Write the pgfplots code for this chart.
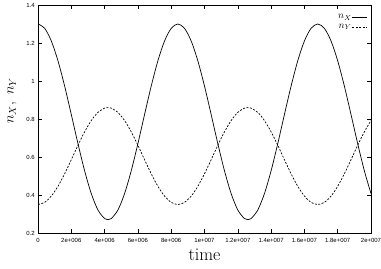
\documentclass[border=0pt]{standalone}
\usepackage{pgfplots}
\usepackage{pgfplotstable}
\usepackage{fontspec}
\pgfplotsset{compat=1.18}
\newfontfamily\tickfont{Liberation Sans}
\pgfplotstableread{
t nX nY
0 1.3000 0.3500
4e5 1.2771 0.3613
8e5 1.2106 0.3943
1.2e6 1.1061 0.4460
1.6e6 0.9732 0.5118
2.0e6 0.8235 0.5859
2.4e6 0.6704 0.6617
2.8e6 0.5275 0.7325
3.2e6 0.4075 0.7919
3.6e6 0.3210 0.8348
4.0e6 0.2758 0.8572
4.2e6 0.2700 0.8600
4.4e6 0.2758 0.8572
4.8e6 0.3210 0.8348
5.2e6 0.4075 0.7919
5.6e6 0.5275 0.7325
6.0e6 0.6704 0.6617
6.4e6 0.8235 0.5859
6.8e6 0.9732 0.5118
7.2e6 1.1061 0.4460
7.6e6 1.2106 0.3943
8.0e6 1.2771 0.3613
8.4e6 1.3000 0.3500
8.8e6 1.2771 0.3613
9.2e6 1.2106 0.3943
9.6e6 1.1061 0.4460
1.0e7 0.9732 0.5118
1.04e7 0.8235 0.5859
1.08e7 0.6704 0.6617
1.12e7 0.5275 0.7325
1.16e7 0.4075 0.7919
1.20e7 0.3210 0.8348
1.24e7 0.2758 0.8572
1.26e7 0.2700 0.8600
1.28e7 0.2758 0.8572
1.32e7 0.3210 0.8348
1.36e7 0.4075 0.7919
1.40e7 0.5275 0.7325
1.44e7 0.6704 0.6617
1.48e7 0.8235 0.5859
1.52e7 0.9732 0.5118
1.56e7 1.1061 0.4460
1.60e7 1.2106 0.3943
1.64e7 1.2771 0.3613
1.68e7 1.3000 0.3500
1.72e7 1.2771 0.3613
1.76e7 1.2106 0.3943
1.80e7 1.1061 0.4460
1.84e7 0.9732 0.5118
1.88e7 0.8235 0.5859
1.92e7 0.6704 0.6617
1.96e7 0.5275 0.7325
2.00e7 0.4075 0.7919
}\datatable
\begin{document}
\begin{tikzpicture}
\path[use as bounding box] (-38bp,-36bp) rectangle (343bp,233bp);
\begin{axis}[
  scale only axis,
  width=333bp, height=228bp,
  at={(0,0)}, anchor=south west,
  xmin=0, xmax=2e7, ymin=0.2, ymax=1.4,
  axis line style={line width=0.6pt},
  tick align=inside, tick pos=both,
  major tick length=4bp,
  tick style={line width=0.5pt, black},
  xtick={0,2e6,4e6,6e6,8e6,1e7,1.2e7,1.4e7,1.6e7,1.8e7,2e7},
  xticklabels={0,2e+006,4e+006,6e+006,8e+006,1e+007,1.2e+007,1.4e+007,1.6e+007,1.8e+007,2e+007},
  ytick={0.2,0.4,0.6,0.8,1,1.2,1.4},
  yticklabels={0.2,0.4,0.6,0.8,1,1.2,1.4},
  scaled x ticks=false,
  tick label style={font=\tickfont\fontsize{6}{7}\selectfont, inner sep=0pt},
  xticklabel style={yshift=-5bp},
  yticklabel style={xshift=-3bp},
  xlabel={time},
  xlabel style={font=\fontsize{18}{20}\selectfont, at={(axis description cs:0.5,0)}, anchor=north, inner sep=0pt, yshift=-16bp},
  ylabel={$n_X,\ n_Y$},
  ylabel style={font=\fontsize{14}{16}\selectfont, at={(axis description cs:-0.078,0.58)}, anchor=center, inner sep=0pt},
  legend plot pos=right,
  legend cell align=right,
  legend style={at={(axis description cs:1,1)}, anchor=north east, xshift=-3bp, yshift=-9bp, draw=none, fill=none, inner sep=0pt, row sep=2.5bp, font=\fontsize{10}{11}\selectfont, nodes={inner sep=0.5pt}},
  legend image code/.code={\draw[#1] (0bp,0bp) -- (15bp,0bp);},
]
\addplot[black, line width=0.7pt, smooth] table[x=t, y=nX] {\datatable};
\addlegendentry{$n_X$}
\addplot[black, line width=0.7pt, smooth, dash pattern=on 2pt off 1.5pt] table[x=t, y=nY] {\datatable};
\addlegendentry{$n_Y$}
\end{axis}
\end{tikzpicture}
\end{document}
